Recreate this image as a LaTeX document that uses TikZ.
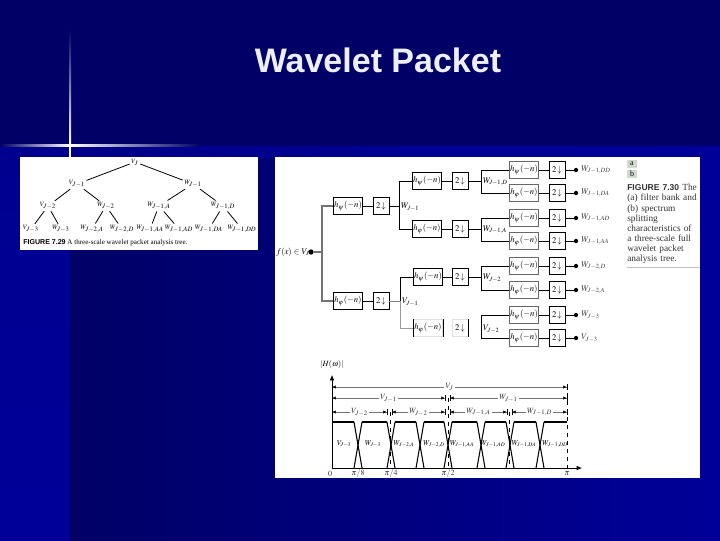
\documentclass[tikz,border=0pt]{standalone}
\usepackage{mathptmx}
\usepackage[no-math]{fontspec}
\setmainfont{Liberation Serif}
\setsansfont{Liberation Sans}
\usetikzlibrary{arrows.meta}
\definecolor{slidedark}{RGB}{0,0,102}
\definecolor{slidebright}{RGB}{0,0,153}
\definecolor{titletext}{RGB}{238,238,245}
\definecolor{capbox}{RGB}{208,216,208}
\tikzset{
  treelabel/.style={inner sep=1pt, font=\fontsize{5}{6}\selectfont},
  treeedge/.style={line width=0.6pt},
  filterbox/.style={draw, line width=0.4pt, minimum width=22pt, minimum height=12.5pt,
                    inner sep=0pt, fill=white, font=\fontsize{6.5}{7}\selectfont},
  downbox/.style={filterbox, minimum width=12pt},
  sidebox/.style={draw=black!12},
  wire/.style={line width=0.4pt},
  graybus/.style={line width=1pt, black!55},
  outdot/.style={circle, fill=black, inner sep=0pt, minimum size=3.2pt},
  buslabel/.style={anchor=west, inner sep=0.5pt, font=\fontsize{6.5}{7}\selectfont},
  outlabel/.style={anchor=west, inner sep=0pt, text=black!75, font=\fontsize{6.5}{7}\selectfont},
  dimline/.style={black!55, line width=0.3pt,
                  {Bar[width=4pt,color=black]Latex[length=2.5pt,width=2.5pt,color=black]}-{Latex[length=2.5pt,width=2.5pt,color=black]Bar[width=4pt,color=black]}},
  dimlabel/.style={midway, fill=white, inner sep=1pt, text=black!80, font=\fontsize{6}{7}\selectfont},
  bandlabel/.style={inner sep=0pt, font=\fontsize{5.6}{6}\selectfont},
  ticklabel/.style={inner sep=0pt, text=black!80, font=\fontsize{6}{7}\selectfont}
}
\begin{document}
\begin{tikzpicture}[x=0.75pt,y=-0.75pt]
  \useasboundingbox (0,0) rectangle (720,540);
  \fill[slidedark] (0,0) rectangle (720,540);
  \shade[top color=slidebright!80!slidedark, bottom color=slidebright] (0,146) rectangle (70,540);
  \shade[left color=slidedark, middle color=slidedark!85!slidebright, right color=slidebright] (70,146) rectangle (720,540);
  \shade[left color=slidebright!70!slidedark, right color=slidebright] (70,146) rectangle (720,157);
  \shade[top color=slidedark, bottom color=white] (69,30) rectangle (71,145);
  \shade[left color=slidedark, right color=white] (0,144) rectangle (70,146);
  \shade[left color=white, right color=slidedark] (70,144) rectangle (200,146);
  \fill[white] (69,145) rectangle (71,157);

  \node[text=titletext, font=\fontsize{25.5}{30}\selectfont\sffamily\bfseries] (title) at (378,60) {Wavelet Packet};

  \fill[white] (20,157) rectangle (258,250);
  \fill[white] (275,157) rectangle (700,478);

  \node[treelabel] (vj) at (135,162) {$V_J$};
  \node[treelabel] (v1) at (77,184) {$V_{J-1}$};
  \node[treelabel] (w1) at (193,184) {$W_{J-1}$};
  \node[treelabel] (v2) at (48,206) {$V_{J-2}$};
  \node[treelabel] (w2) at (106,206) {$W_{J-2}$};
  \node[treelabel] (w1a) at (159,206) {$W_{J-1,A}$};
  \node[treelabel] (w1d) at (223,206) {$W_{J-1,D}$};
  \node[treelabel] (v3) at (31,229) {$V_{J-3}$};
  \node[treelabel] (w3) at (61,229) {$W_{J-3}$};
  \node[treelabel] (w2a) at (92,229) {$W_{J-2,A}$};
  \node[treelabel] (w2d) at (122,229) {$W_{J-2,D}$};
  \node[treelabel] (w1aa) at (150,229) {$W_{J-1,AA}$};
  \node[treelabel] (w1ad) at (179,229) {$W_{J-1,AD}$};
  \node[treelabel] (w1da) at (209,229) {$W_{J-1,DA}$};
  \node[treelabel] (w1dd) at (242,229) {$W_{J-1,DD}$};
  \foreach \from/\to in {vj/v1,vj/w1,v1/v2,v1/w2,w1/w1a,w1/w1d,v2/v3,v2/w3,w2/w2a,w2/w2d,
                         w1a/w1aa,w1a/w1ad,w1d/w1da,w1d/w1dd}
    \draw[treeedge] (\from) -- (\to);
  \node[anchor=west, inner sep=0pt, font=\fontsize{5.3}{6}\selectfont] (treecap) at (23,243)
    {\textsf{\textbf{FIGURE 7.29}} A three-scale wavelet packet analysis tree.};

  \node[inner sep=0pt, font=\fontsize{6.5}{7}\selectfont] (input) at (293,252) {$f(x)\in V_J$};
  \node[outdot, minimum size=4pt] (indot) at (311,252) {};
  \coordinate (inbus) at (322,252);
  \node[filterbox] (hw) at (348,206) {$h_\psi(-n)$};
  \node[downbox] (dw) at (381,206) {$2\!\downarrow$};
  \node[filterbox] (hv) at (348,301) {$h_\varphi(-n)$};
  \node[downbox] (dv) at (381,301) {$2\!\downarrow$};
  \draw[graybus] (indot) -- (inbus) (hw.west) -| (inbus) (hv.west) -| (inbus);
  \draw[wire] (hw) -- (dw);
  \draw[wire] (hv) -- (dv);

  \coordinate (wbus) at (399,206);
  \coordinate (vbus) at (400,301);
  \node[buslabel] (wlabel) at (400,207) {$W_{J-1}$};
  \node[buslabel] (vlabel) at (401,302) {$V_{J-1}$};
  \draw[wire] (dw) -- (wbus);
  \draw[wire, black!50] (dv) -- (vbus);

  \foreach \rowname/\rowy/\filt/\buslbl/\busx/\parent in {a/181/\psi/{W_{J-1,D}}/412/wbus, b/229/\varphi/{W_{J-1,A}}/412/wbus,
                                                    c/277/\psi/{W_{J-2}}/413/vbus}{
    \node[filterbox] (h\rowname) at (\busx+15,\rowy) {$h_\filt(-n)$};
    \node[downbox] (d\rowname) at (460,\rowy) {$2\!\downarrow$};
    \coordinate (bus\rowname) at (481,\rowy);
    \node[buslabel] (lbl\rowname) at (482,\rowy+1) {$\buslbl$};
    \draw[wire] (h\rowname.west) -| (\parent);
    \draw[wire] (h\rowname) -- (d\rowname);
    \draw[wire] (d\rowname) -- (bus\rowname);
  }
  \node[filterbox, sidebox] (hd) at (428,328) {$h_\varphi(-n)$};
  \node[downbox, sidebox] (dd) at (460,328) {$2\!\downarrow$};
  \draw[wire] (hd.north west) -- (hd.south west) (hd.north east) -- (hd.south east);
  \draw[wire] (dd.north east) -- (dd.south east);
  \draw[wire, black!40] (hd.west) -| (vbus);
  \coordinate (busd) at (481,328);
  \node[buslabel] (lbld) at (482,329) {$V_{J-2}$};

  \foreach \rowname/\rowy/\filt/\parent/\outtext in {
      dd/170/\psi/busa/{W_{J-1,DD}}, da/193/\varphi/busa/{W_{J-1,DA}},
      ad/218/\psi/busb/{W_{J-1,AD}}, aa/241/\varphi/busb/{W_{J-1,AA}},
      jd/266/\psi/busc/{W_{J-2,D}}, ja/290/\varphi/busc/{W_{J-2,A}},
      kw/315/\psi/busd/{W_{J-3}}, kv/338/\varphi/busd/{V_{J-3}}}{
    \node[filterbox, draw=black!60] (f\rowname) at (524,\rowy) {$h_\filt(-n)$};
    \node[downbox] (g\rowname) at (557,\rowy) {$2\!\downarrow$};
    \node[outdot] (o\rowname) at (576,\rowy) {};
    \node[outlabel] (t\rowname) at (581,\rowy) {$\outtext$};
    \draw[wire] (f\rowname.west) -| (\parent);
    \draw[wire] (f\rowname) -- (g\rowname);
    \draw[wire] (g\rowname) -- (o\rowname);
  }

  \node[fill=capbox, minimum width=7.5pt, minimum height=6pt, inner sep=0pt, font=\fontsize{6}{6}\selectfont] (capa) at (632,164) {a};
  \node[fill=capbox, minimum width=7.5pt, minimum height=6pt, inner sep=0pt, font=\fontsize{6}{6}\selectfont] (capb) at (632,174) {b};
  \node[anchor=north west, inner sep=0pt, align=left, text width=56pt, text=black!80,
        font=\fontsize{7}{7.6}\selectfont] (figcap) at (627,184)
    {\textsf{\textbf{\fontsize{6.4}{7.6}\selectfont FIGURE 7.30}} The\\(a) filter bank and\\(b) spectrum\\splitting\\characteristics of\\a three-scale full\\wavelet packet\\analysis tree.};
  \draw[black!25, line width=0.5pt] (627,267) -- (700,267);

  \coordinate (origin) at (332,468);
  \coordinate (yend) at (332,375);
  \coordinate (xend) at (582,468);
  \node[inner sep=0pt, font=\fontsize{6}{7}\selectfont] (ylabel) at (332,364) {$|H(\omega)|$};
  \draw[line width=0.5pt, -{Latex[length=4pt,width=3.5pt]}] (origin) -- (yend);
  \draw[line width=0.5pt, -{Latex[length=4pt,width=3.5pt]}] (origin) -- (xend);
  \foreach \dashx/\dashtop in {567/385, 390/412, 448/398, 509/412}
    \draw[dashed, line width=0.35pt] (\dashx,\dashtop) -- (\dashx,468);

  \foreach \ax/\bx/\dimy/\dimtext in {332/567/387/{V_J}, 332/445/398/{V_{J-1}}, 450/567/398/{W_{J-1}},
      332/387/412/{V_{J-2}}, 392/445/412/{W_{J-2}}, 450/507/412/{W_{J-1,A}}, 512/567/412/{W_{J-1,D}}}
    \draw[dimline] (\ax,\dimy) -- (\bx,\dimy) node[dimlabel] {$\dimtext$};

  \foreach \barl/\barr in {332/354, 362/387, 395/416, 424/444, 452/477, 485/506, 514/536, 544/567}
    \draw[line width=1.3pt] (\barl,422) -- (\barr,422);
  \foreach \cross in {358, 391, 420, 448, 481, 510, 540}{
    \draw[line width=0.8pt] (\cross-4,422) -- (\cross+4,468);
    \draw[line width=0.8pt] (\cross+4,422) -- (\cross-4,468);
  }
  \foreach \bandx/\bandtext in {344/{V_{J-3}}, 373/{W_{J-3}}, 404/{W_{J-2,A}}, 434/{W_{J-2,D}},
      462/{W_{J-1,AA}}, 493/{W_{J-1,AD}}, 524/{W_{J-1,DA}}, 555/{W_{J-1,DD}}}
    \node[bandlabel] at (\bandx,444) {$\bandtext$};
  \foreach \tickx/\ticktext in {330/0, 358/{\pi/8}, 391/{\pi/4}, 448/{\pi/2}, 567/{\pi}}
    \node[ticklabel] at (\tickx,474) {$\ticktext$};
\end{tikzpicture}
\end{document}
